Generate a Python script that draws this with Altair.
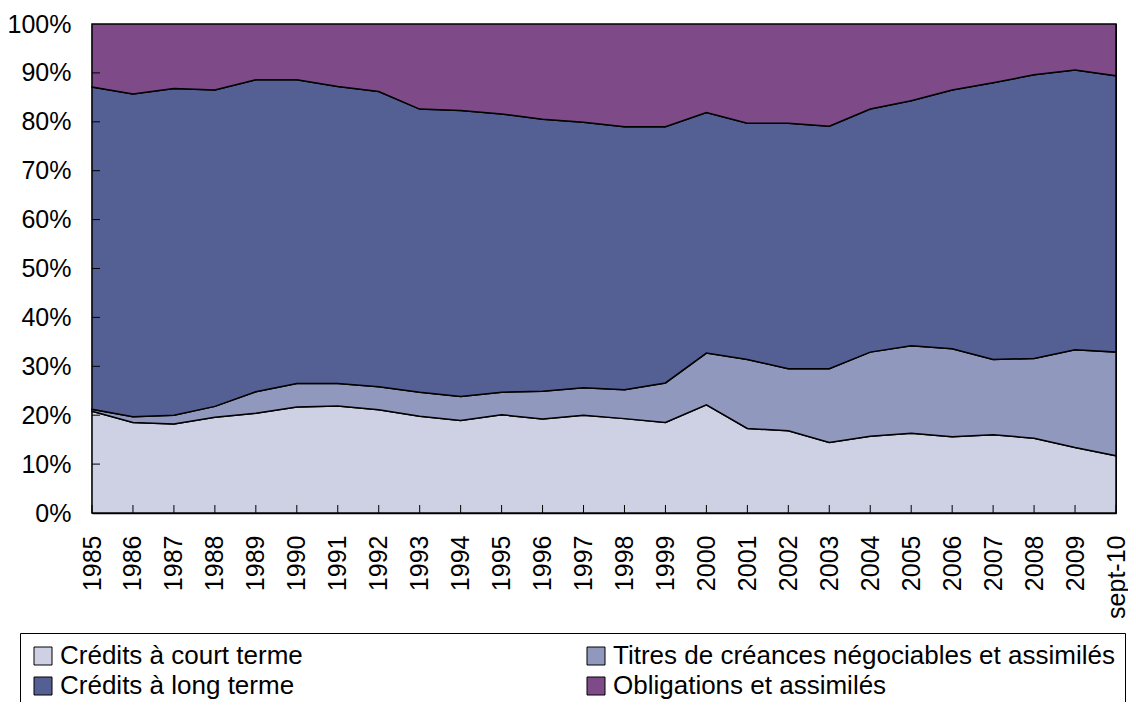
import altair as alt
import pandas as pd

years = ["1985", "1986", "1987", "1988", "1989", "1990", "1991", "1992", "1993",
         "1994", "1995", "1996", "1997", "1998", "1999", "2000", "2001", "2002",
         "2003", "2004", "2005", "2006", "2007", "2008", "2009", "sept-10"]

court = [20.8, 18.5, 18.2, 19.6, 20.4, 21.7, 21.9, 21.1, 19.8, 18.9, 20.1, 19.2, 20.0,
         19.3, 18.5, 22.1, 17.3, 16.8, 14.4, 15.7, 16.3, 15.6, 16.0, 15.3, 13.4, 11.7]
titres = [0.4, 1.2, 1.8, 2.2, 4.4, 4.8, 4.6, 4.7, 4.9, 4.9, 4.6, 5.7, 5.6,
          5.9, 8.1, 10.6, 14.1, 12.7, 15.1, 17.2, 17.9, 18.0, 15.4, 16.3, 20.0, 21.2]
long_terme = [65.9, 66.0, 66.8, 64.7, 63.8, 62.1, 60.7, 60.4, 57.9, 58.5, 56.9, 55.6, 54.3,
              53.8, 52.4, 49.2, 48.3, 50.2, 49.6, 49.7, 50.1, 52.9, 56.6, 58.0, 57.2, 56.5]
obligations = [12.9, 14.3, 13.2, 13.5, 11.4, 11.4, 12.8, 13.8, 17.4, 17.7, 18.4, 19.5, 20.1,
               21.0, 21.0, 18.1, 20.3, 20.3, 20.9, 17.4, 15.7, 13.5, 12.0, 10.4, 9.4, 10.6]

series_names = ["Crédits à court terme",
                "Titres de créances négociables et assimilés",
                "Crédits à long terme",
                "Obligations et assimilés"]
colors = ["#CED1E4", "#9098BE", "#545F94", "#7E4A88"]
y_tick_values = [10, 20, 30, 40, 50, 60, 70, 80, 90]

rows = []
for i, yr in enumerate(years):
    for k, (name, vals) in enumerate(zip(series_names, [court, titres, long_terme, obligations])):
        rows.append({"annee": yr, "serie": name, "valeur": vals[i], "ordre": k})
df = pd.DataFrame(rows)

W, H = 1024, 489
FONT = "Liberation Sans"

x_axis = alt.Axis(title=None, labelAngle=270, ticks=False, tickSize=0,
                  labelPadding=22, domainColor="black", domainWidth=1.5)
y_axis = alt.Axis(title=None, values=list(range(0, 101, 10)),
                  labelExpr="datum.value + '%'", ticks=False, tickSize=0,
                  labelPadding=21, domainColor="black", domainWidth=1.5)
x_scale = alt.Scale(type="point", padding=0)
y_scale = alt.Scale(domain=[0, 100], nice=False)

areas = alt.Chart(df).mark_area(stroke="black", strokeWidth=1.5, opacity=1).encode(
    x=alt.X("annee:N", sort=years, scale=x_scale, axis=x_axis),
    y=alt.Y("valeur:Q", stack="zero", scale=y_scale, axis=y_axis),
    color=alt.Color("serie:N", sort=series_names,
                    scale=alt.Scale(domain=series_names, range=colors),
                    legend=alt.Legend(title=None, orient="none", legendX=-72, legendY=609,
                                      direction="horizontal",
                                      columns=2, columnPadding=280, rowPadding=4,
                                      symbolType="square", symbolSize=324,
                                      symbolStrokeColor="black", symbolStrokeWidth=1,
                                      symbolOpacity=1, labelFontSize=26, labelFont=FONT,
                                      labelColor="black", labelLimit=1000, labelOffset=4,
                                      strokeColor="black", padding=10, fillColor="white")),
    order=alt.Order("ordre:Q", sort="ascending"),
)

yticks = alt.Chart(pd.DataFrame({"valeur": y_tick_values})).mark_rule(
    color="black", strokeWidth=1).encode(
    y=alt.Y("valeur:Q", scale=y_scale, axis=y_axis),
    x=alt.value(0), x2=alt.value(8),
)

xticks = alt.Chart(pd.DataFrame({"annee": years})).mark_rule(
    color="black", strokeWidth=1).encode(
    x=alt.X("annee:N", sort=years, scale=x_scale, axis=x_axis),
    y=alt.value(H), y2=alt.value(H - 8),
)

chart = alt.layer(areas, yticks, xticks).properties(
    width=W, height=H,
    padding={"left": 84, "top": 16, "right": 12, "bottom": 189},
    autosize=alt.AutoSizeParams(type="none"),
).configure_view(stroke="black", strokeWidth=1).configure_axis(
    labelFont=FONT, labelFontSize=25, labelColor="black", grid=False
)

chart.save("out.html", embed_options={"renderer": "svg", "actions": False})
